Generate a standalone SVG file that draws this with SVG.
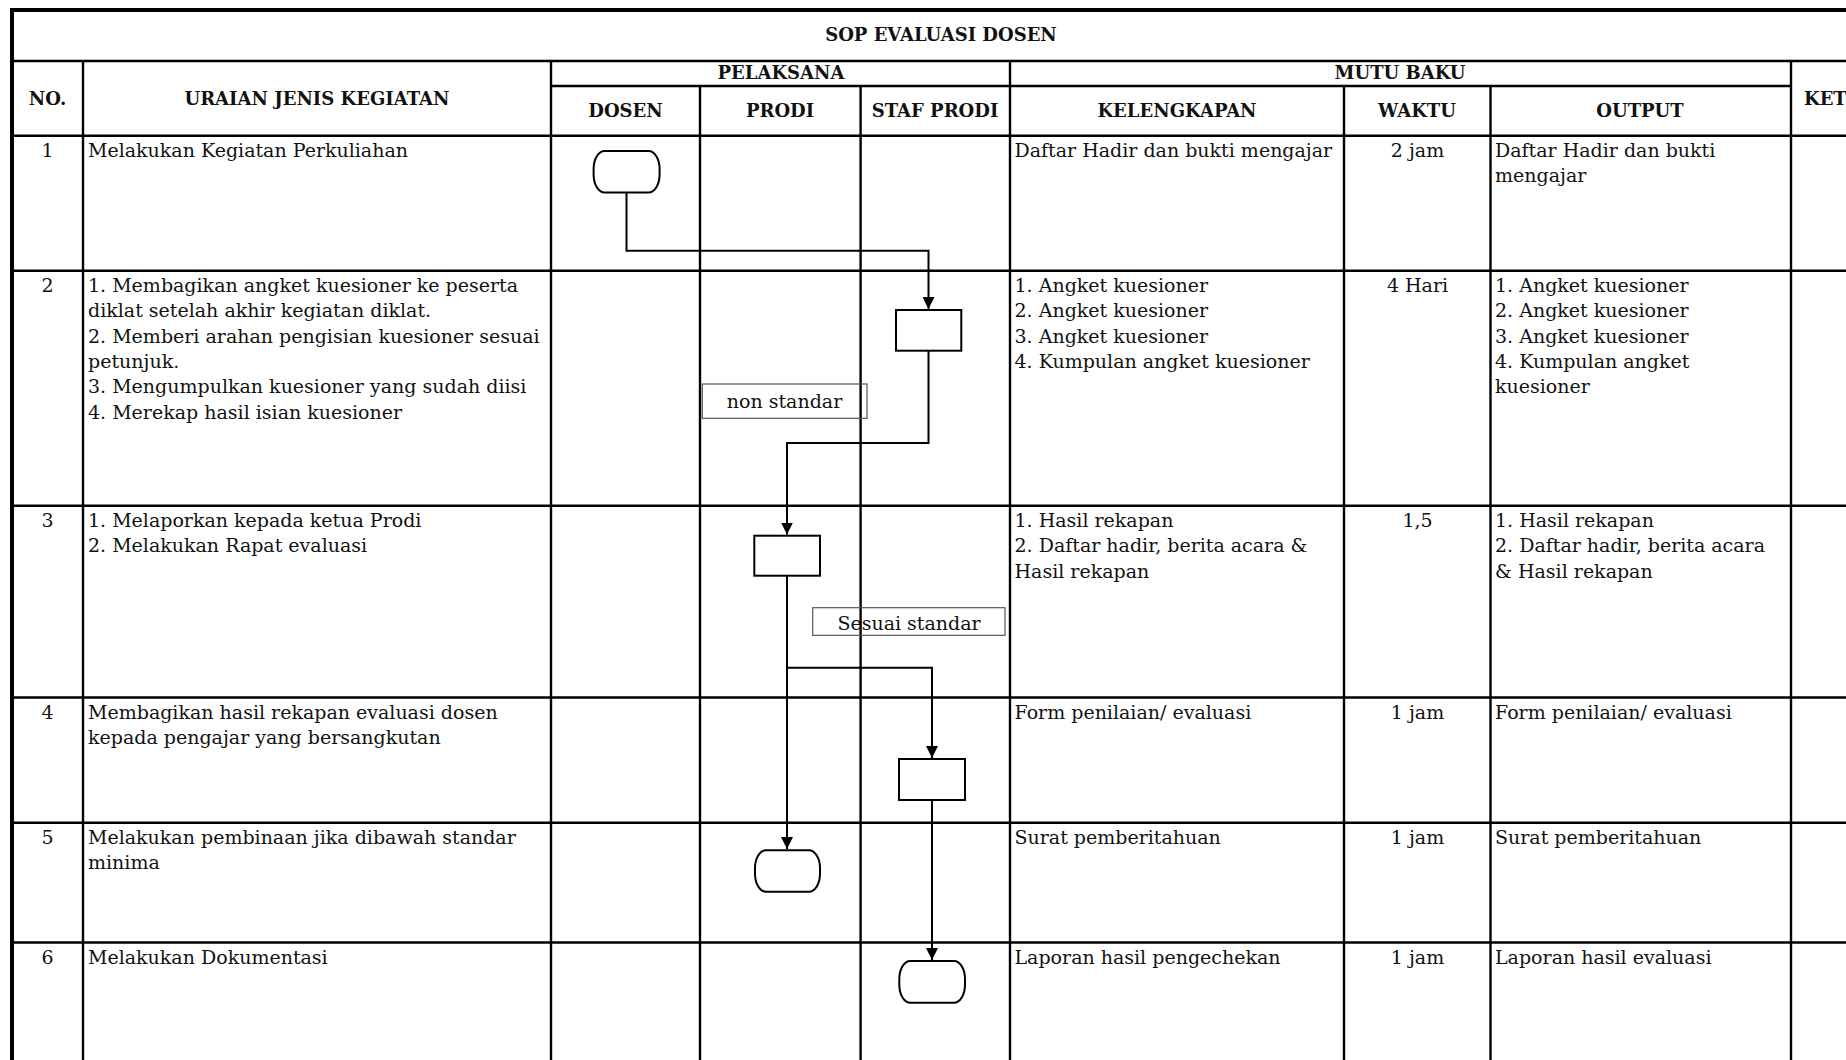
<svg xmlns="http://www.w3.org/2000/svg" width="1846" height="1060" viewBox="0 0 1846 1060">
<style>
.t{font-family:"DejaVu Serif","Liberation Serif",serif;font-size:19px;fill:#111}
.h{font-family:"DejaVu Serif","Liberation Serif",serif;font-size:18px;font-weight:bold;fill:#111}
.m{text-anchor:middle}
.grid line{stroke:#000;stroke-width:2.4}
.shape{fill:#fff;stroke:#000;stroke-width:2}
.lbl{fill:none;stroke:#555;stroke-width:1.2}
.conn path{fill:none;stroke:#000;stroke-width:2}
</style>
<defs>
<marker id="arr" markerUnits="userSpaceOnUse" markerWidth="12" markerHeight="12" viewBox="0 0 10 10" refX="10" refY="5" orient="auto">
<path d="M0,0 L10,5 L0,10 z" fill="#000"/>
</marker>
</defs>
<rect width="1846" height="1060" fill="#fff"/>
<g id="table" class="grid">
<line x1="10" y1="10" x2="1846" y2="10" style="stroke-width:4"/>
<line x1="12" y1="8" x2="12" y2="1060" style="stroke-width:4"/>
<line x1="12" y1="61" x2="1846" y2="61"/>
<line x1="551" y1="86" x2="1791" y2="86"/>
<line x1="12" y1="135.7" x2="1846" y2="135.7"/>
<line x1="12" y1="270.7" x2="1846" y2="270.7"/>
<line x1="12" y1="505.7" x2="1846" y2="505.7"/>
<line x1="12" y1="697.5" x2="1846" y2="697.5"/>
<line x1="12" y1="822.7" x2="1846" y2="822.7"/>
<line x1="12" y1="942.5" x2="1846" y2="942.5"/>
<line x1="83" y1="61" x2="83" y2="1060"/>
<line x1="551" y1="61" x2="551" y2="1060"/>
<line x1="700" y1="86" x2="700" y2="1060"/>
<line x1="860.6" y1="86" x2="860.6" y2="1060"/>
<line x1="1010" y1="61" x2="1010" y2="1060"/>
<line x1="1344" y1="86" x2="1344" y2="1060"/>
<line x1="1490.5" y1="86" x2="1490.5" y2="1060"/>
<line x1="1791" y1="61" x2="1791" y2="1060"/>
</g>
<g id="header">
<text class="h m" x="941" y="41">SOP EVALUASI DOSEN</text>
<text class="h m" x="47.5" y="105">NO.</text>
<text class="h m" x="317" y="105">URAIAN JENIS KEGIATAN</text>
<text class="h m" x="781" y="79">PELAKSANA</text>
<text class="h m" x="1400" y="79">MUTU BAKU</text>
<text class="h" x="1804" y="105">KET</text>
<text class="h m" x="625.5" y="117">DOSEN</text>
<text class="h m" x="780" y="117">PRODI</text>
<text class="h m" x="935" y="117">STAF PRODI</text>
<text class="h m" x="1177" y="117">KELENGKAPAN</text>
<text class="h m" x="1417" y="117">WAKTU</text>
<text class="h m" x="1640" y="117">OUTPUT</text>
</g>
<g id="row1">
<text class="t m" x="47.5" y="156.5">1</text>
<text class="t" x="88" y="156.5">Melakukan Kegiatan Perkuliahan</text>
<text class="t" x="1014.5" y="156.5">Daftar Hadir dan bukti mengajar</text>
<text class="t m" x="1417.5" y="156.5">2 jam</text>
<text class="t" x="1495" y="156.5">Daftar Hadir dan bukti</text>
<text class="t" x="1495" y="182">mengajar</text>
</g>
<g id="row2">
<text class="t m" x="47.5" y="291.7">2</text>
<text class="t" x="88" y="291.7">1. Membagikan angket kuesioner ke peserta</text>
<text class="t" x="88" y="317.1">diklat setelah akhir kegiatan diklat.</text>
<text class="t" x="88" y="342.5">2. Memberi arahan pengisian kuesioner sesuai</text>
<text class="t" x="88" y="368">petunjuk.</text>
<text class="t" x="88" y="393.3">3. Mengumpulkan kuesioner yang sudah diisi</text>
<text class="t" x="88" y="418.7">4. Merekap hasil isian kuesioner</text>
<text class="t" x="1014.5" y="291.7">1. Angket kuesioner</text>
<text class="t" x="1014.5" y="317.1">2. Angket kuesioner</text>
<text class="t" x="1014.5" y="342.5">3. Angket kuesioner</text>
<text class="t" x="1014.5" y="368">4. Kumpulan angket kuesioner</text>
<text class="t m" x="1417.5" y="291.7">4 Hari</text>
<text class="t" x="1495" y="291.7">1. Angket kuesioner</text>
<text class="t" x="1495" y="317.1">2. Angket kuesioner</text>
<text class="t" x="1495" y="342.5">3. Angket kuesioner</text>
<text class="t" x="1495" y="368">4. Kumpulan angket</text>
<text class="t" x="1495" y="393.3">kuesioner</text>
</g>
<g id="row3">
<text class="t m" x="47.5" y="526.7">3</text>
<text class="t" x="88" y="526.7">1. Melaporkan kepada ketua Prodi</text>
<text class="t" x="88" y="552.1">2. Melakukan Rapat evaluasi</text>
<text class="t" x="1014.5" y="526.7">1. Hasil rekapan</text>
<text class="t" x="1014.5" y="552.1">2. Daftar hadir, berita acara &amp;</text>
<text class="t" x="1014.5" y="577.5">Hasil rekapan</text>
<text class="t m" x="1417.5" y="526.7">1,5</text>
<text class="t" x="1495" y="526.7">1. Hasil rekapan</text>
<text class="t" x="1495" y="552.1">2. Daftar hadir, berita acara</text>
<text class="t" x="1495" y="577.5">&amp; Hasil rekapan</text>
</g>
<g id="row4">
<text class="t m" x="47.5" y="718.5">4</text>
<text class="t" x="88" y="718.5">Membagikan hasil rekapan evaluasi dosen</text>
<text class="t" x="88" y="743.9">kepada pengajar yang bersangkutan</text>
<text class="t" x="1014.5" y="718.5">Form penilaian/ evaluasi</text>
<text class="t m" x="1417.5" y="718.5">1 jam</text>
<text class="t" x="1495" y="718.5">Form penilaian/ evaluasi</text>
</g>
<g id="row5">
<text class="t m" x="47.5" y="843.5">5</text>
<text class="t" x="88" y="843.5">Melakukan pembinaan jika dibawah standar</text>
<text class="t" x="88" y="868.9">minima</text>
<text class="t" x="1014.5" y="843.5">Surat pemberitahuan</text>
<text class="t m" x="1417.5" y="843.5">1 jam</text>
<text class="t" x="1495" y="843.5">Surat pemberitahuan</text>
</g>
<g id="row6">
<text class="t m" x="47.5" y="963.5">6</text>
<text class="t" x="88" y="963.5">Melakukan Dokumentasi</text>
<text class="t" x="1014.5" y="963.5">Laporan hasil pengechekan</text>
<text class="t m" x="1417.5" y="963.5">1 jam</text>
<text class="t" x="1495" y="963.5">Laporan hasil evaluasi</text>
</g>
<g id="connectors" class="conn">
<path d="M626.5,192.5 V250.7 H928.5 V309" marker-end="url(#arr)"/>
<path d="M928.5,350.7 V443 H787 V534.5" marker-end="url(#arr)"/>
<path d="M787,575.7 V849" marker-end="url(#arr)"/>
<path d="M787,667.7 H932 V758" marker-end="url(#arr)"/>
<path d="M932,800 V960" marker-end="url(#arr)"/>
</g>
<g id="n_start">
<rect class="shape" x="593.6" y="151" width="66" height="41.5" rx="11" ry="18"/>
</g>
<g id="n_staf_distribute">
<rect class="shape" x="896" y="310" width="65.3" height="40.7"/>
</g>
<g id="n_prodi_rapat">
<rect class="shape" x="754.3" y="535.7" width="65.7" height="40"/>
</g>
<g id="n_staf_share">
<rect class="shape" x="899" y="759" width="66" height="41"/>
</g>
<g id="n_end_prodi">
<rect class="shape" x="755" y="850.3" width="65" height="41.4" rx="11" ry="18"/>
</g>
<g id="n_end_staf">
<rect class="shape" x="899.3" y="961" width="65.7" height="41.7" rx="11" ry="18"/>
</g>
<g id="lbl_non">
<rect class="lbl" x="702.3" y="384" width="164.7" height="34.3"/>
<text class="t m" x="784.5" y="408">non standar</text>
</g>
<g id="lbl_sesuai">
<rect class="lbl" x="812.7" y="607.7" width="192.3" height="27.6"/>
<text class="t m" x="909" y="630">Sesuai standar</text>
</g>
</svg>
